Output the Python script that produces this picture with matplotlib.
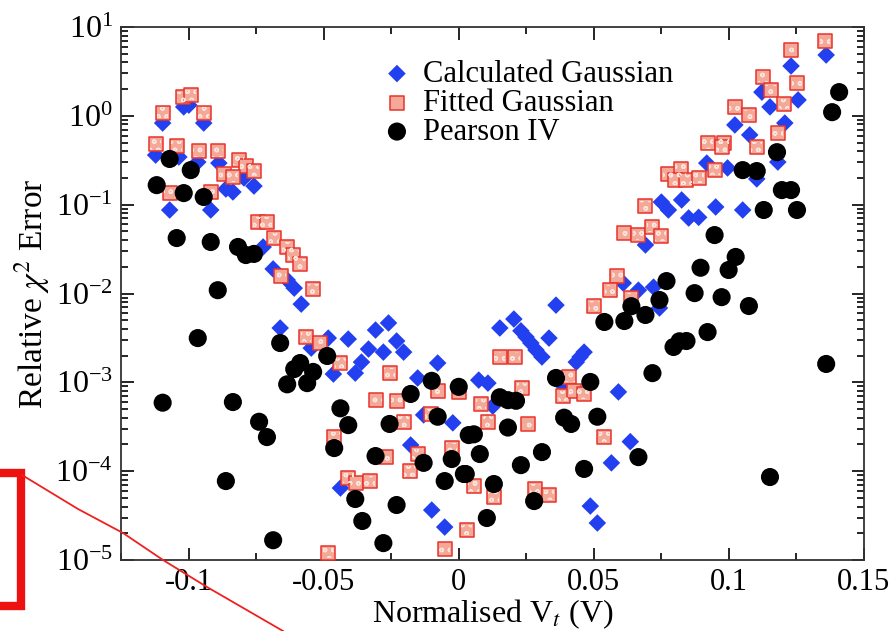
import matplotlib
matplotlib.use("Agg")
import matplotlib.pyplot as plt
import matplotlib.ticker as mticker
from matplotlib.patches import Rectangle
from matplotlib.lines import Line2D

plt.rcParams['font.family'] = ['Liberation Serif', 'DejaVu Serif']
plt.rcParams['mathtext.fontset'] = 'stix'
plt.rcParams['axes.unicode_minus'] = False

# ---- Calculated Gaussian ----
calc_x = [-0.1096, -0.1018, -0.0999, -0.0944, -0.1122, -0.1036, -0.0966, -0.0888, -0.0795, -0.0758,
          -0.0862, -0.0836, -0.1070, -0.0918, -0.0724, -0.0687, -0.0635, -0.0609, -0.0583, -0.0661,
          -0.0546, -0.0483, -0.0409, -0.0308, -0.0260, -0.0230, -0.0334, -0.0279, -0.0204, -0.0360,
          -0.0464, -0.0383, -0.0078, -0.0152, -0.0130, -0.0022, -0.0178, -0.0438, -0.0100, -0.0052,
          0.0360, 0.0204, 0.0152, 0.0230, 0.0249, 0.0267, 0.0286, 0.0308, 0.0334, 0.0435,
          0.0449, 0.0464, 0.0074, 0.0108, 0.0390, 0.0591, 0.0126, 0.0635, 0.0565, 0.0487,
          0.0513, 0.0609, 0.0665, 0.0721, 0.0691, 0.0743, 0.0750, 0.0776, 0.0825, 0.0851,
          0.0888, 0.0951, 0.0918, 0.0995, 0.1051, 0.1103, 0.1181, 0.1022, 0.1077, 0.1207,
          0.1122, 0.1152, 0.1256, 0.1230, 0.1360]
calc_y = [0.83, 1.26, 1.32, 0.83, 0.362, 0.344, 0.302, 0.294, 0.20, 0.162,
          0.15, 0.139, 0.0871, 0.0871, 0.0334, 0.0189, 0.0142, 0.0115, 0.0076, 0.00409,
          0.00243, 0.00315, 0.00307, 0.00388, 0.00466, 0.00292, 0.00237, 0.00219, 0.00219, 0.00169,
          0.00124, 0.00127, 0.00165, 0.00112, 0.00043, 0.00035, 0.000197, 0.0000646, 0.0000365, 0.0000235,
          0.0074, 0.00516, 0.00409, 0.0038, 0.00324, 0.00277, 0.00231, 0.00193, 0.00315, 0.00169,
          0.00193, 0.00219, 0.00106, 0.00098, 0.00089, 0.00078, 0.00054, 0.000215, 0.000124, 0.0000405,
          0.0000261, 0.0131, 0.0109, 0.0118, 0.0352, 0.00687, 0.107, 0.0871, 0.113, 0.0708,
          0.072, 0.0942, 0.294, 0.259, 0.0871, 0.195, 0.302, 0.79, 0.61, 0.83,
          1.85, 1.26, 1.51, 3.64, 4.84]

# ---- Fitted Gaussian ----
fit_x = [-0.1096, -0.1022, -0.0992, -0.0944, -0.1122, -0.1044, -0.0962, -0.0892, -0.0814, -0.0788,
         -0.0758, -0.0869, -0.0836, -0.1070, -0.0918, -0.0743, -0.0710, -0.0684, -0.0635, -0.0613,
         -0.0587, -0.0658, -0.0539, -0.0565, -0.0513, -0.0438, -0.0256, -0.0305, -0.0230, -0.0204,
         -0.0104, -0.0078, 0.0000, -0.0461, -0.0271, -0.0152, -0.0182, -0.0026, -0.0409, -0.0379,
         -0.0330, -0.0483, -0.0052, 0.0030, 0.0055, 0.0501, 0.0152, 0.0208, 0.0409, 0.0234,
         0.0386, 0.0427, 0.0464, 0.0082, 0.0108, 0.0256, 0.0539, 0.0130, 0.0282, 0.0334,
         0.0587, 0.0561, 0.0639, 0.0613, 0.0665, 0.0717, 0.0747, 0.0691, 0.0776, 0.0821,
         0.0799, 0.0843, 0.0888, 0.0947, 0.0921, 0.0981, 0.0973, 0.1103, 0.1022, 0.1074,
         0.1181, 0.1126, 0.1252, 0.1155, 0.1204, 0.1230, 0.1356]
fit_y = [1.08, 1.63, 1.72, 1.08, 0.48, 0.457, 0.40, 0.40, 0.32, 0.272,
         0.239, 0.221, 0.205, 0.135, 0.139, 0.0638, 0.0638, 0.0421, 0.0334, 0.0271,
         0.0215, 0.0157, 0.0112, 0.00324, 0.00277, 0.00165, 0.00127, 0.00063, 0.00062, 0.00036,
         0.00044, 0.0008, 0.00078, 0.000242, 0.000144, 0.000156, 0.0001, 0.000182, 0.0000837, 0.0000736,
         0.0000774, 0.000012, 0.0000133, 0.0000218, 0.0000674, 0.00723, 0.00193, 0.00193, 0.00115, 0.00086,
         0.0007, 0.0008, 0.00074, 0.00057, 0.00036, 0.00034, 0.000242, 0.0000512, 0.000063, 0.0000539,
         0.0157, 0.0109, 0.0089, 0.048, 0.0455, 0.0561, 0.0444, 0.0966, 0.221, 0.25,
         0.19, 0.19, 0.20, 0.245, 0.49, 0.49, 0.446, 0.446, 1.26, 1.02,
         0.64, 2.74, 2.34, 1.95, 1.36, 5.5, 6.95]

# ---- Pearson IV ----
pear_x = [-0.1070, -0.0992, -0.1118, -0.1018, -0.0944, -0.1044, -0.0918, -0.0817, -0.0788, -0.0758,
          -0.0892, -0.0966, -0.0661, -0.0587, -0.0609, -0.0539, -0.0635, -0.0561, -0.1096, -0.0836,
          -0.0739, -0.0710, -0.0862, -0.0687, -0.0487, -0.0178, -0.0100, 0.0000, -0.0438, -0.0409,
          -0.0256, -0.0078, 0.0037, -0.0461, -0.0308, -0.0130, -0.0026, 0.0019, -0.0052, -0.0383,
          -0.0230, -0.0357, -0.0279, 0.0539, 0.0613, 0.0360, 0.0487, 0.0152, 0.0182, 0.0212,
          0.0390, 0.0416, 0.0513, 0.0056, 0.0182, 0.0078, 0.0308, 0.0230, 0.0464, 0.0026,
          0.0130, 0.0279, 0.0104, 0.0665, 0.0691, 0.0639, 0.0743, 0.0769, 0.0873, 0.0973,
          0.1074, 0.0947, 0.1025, 0.0999, 0.0895, 0.0921, 0.0795, 0.0843, 0.0817, 0.0717,
          0.1360, 0.1152, 0.1051, 0.1103, 0.1178, 0.1196, 0.1230, 0.1129, 0.1252, 0.1408,
          0.1382]
pear_y = [0.327, 0.245, 0.166, 0.135, 0.122, 0.0421, 0.038, 0.0334, 0.0271, 0.0279,
          0.0109, 0.00315, 0.00277, 0.00165, 0.00141, 0.00131, 0.00095, 0.00098, 0.00059, 0.0006,
          0.00036, 0.000242, 0.0000774, 0.0000167, 0.00198, 0.00074, 0.00104, 0.00089, 0.00051, 0.00033,
          0.00034, 0.00041, 0.000255, 0.000182, 0.000148, 0.000124, 0.000137, 0.0000929, 0.0000774, 0.0000486,
          0.0000416, 0.0000275, 0.0000155, 0.00478, 0.0049, 0.00112, 0.00101, 0.00068, 0.00063, 0.00062,
          0.0004, 0.00034, 0.00041, 0.00026, 0.00031, 0.000156, 0.000164, 0.000117, 0.000106, 0.0000929,
          0.0000717, 0.0000461, 0.0000297, 0.000144, 0.00573, 0.0072, 0.00845, 0.0138, 0.0101, 0.0091,
          0.00723, 0.0455, 0.0258, 0.0184, 0.0195, 0.00368, 0.0025, 0.00292, 0.0029, 0.00127,
          0.00161, 0.0000859, 0.245, 0.239, 0.39, 0.146, 0.146, 0.0871, 0.0871, 1.85,
          1.10]

series_labels = ["Calculated Gaussian", "Fitted Gaussian", "Pearson IV"]
x_ticks = [-0.1, -0.05, 0, 0.05, 0.1, 0.15]
x_tick_labels = ["-0.1", "-0.05", "0", "0.05", "0.1", "0.15"]

fig = plt.figure(figsize=(8.92, 6.31), dpi=100)
ax = fig.add_axes([0.1357, 0.1125, 0.8329, 0.8447])

blue = '#2340f0'
ax.scatter(calc_x, calc_y, marker='D', s=80, c=blue, edgecolors='none', zorder=3,
           label=series_labels[0])
ax.scatter(fit_x, fit_y, marker='s', s=105, facecolors='#f4a898', edgecolors='#e8332c',
           linewidths=1.1, zorder=4, label=series_labels[1])
ax.scatter(fit_x, fit_y, marker='s', s=60, facecolors='none', edgecolors='#fbe4dc',
           linewidths=0, hatch='oo', zorder=4.1)
ax.scatter(pear_x, pear_y, marker='o', s=170, c='black', edgecolors='none', zorder=5,
           label=series_labels[2])

ax.set_yscale('log')
ax.set_xlim(-0.125, 0.15)
ax.set_ylim(1e-5, 10)
ax.set_xticks(x_ticks)
ax.set_xticklabels(x_tick_labels)
ax.xaxis.set_minor_locator(mticker.MultipleLocator(0.025))
ax.yaxis.set_major_locator(mticker.LogLocator(base=10, numticks=10))
ax.yaxis.set_minor_locator(mticker.LogLocator(base=10, subs=range(2, 10), numticks=20))
ax.yaxis.set_minor_formatter(mticker.NullFormatter())

ax.tick_params(which='both', direction='in', top=True, right=True, labelsize=23, width=1.2)
ax.tick_params(axis='x', labelsize=22, pad=6)
ax.tick_params(axis='y', pad=6)
ax.tick_params(which='major', length=9)
ax.tick_params(which='minor', length=5)
for sp in ax.spines.values():
    sp.set_linewidth(1.3)
    sp.set_color('#333333')

ax.set_xlabel(r"Normalised V$_t$ (V)", fontsize=23, labelpad=0)
ax.set_ylabel(r"Relative $\chi^2$ Error", fontsize=24, labelpad=2)

leg = ax.legend(loc='upper left', bbox_to_anchor=(0.322, 0.979), frameon=False,
                fontsize=22, labelspacing=0.0, handletextpad=0.35, borderpad=0.2,
                handlelength=1.0, scatterpoints=1)

# red annotation marks on the scanned figure
fig.patches.append(Rectangle((-10, 631 - 606), 31, 133, transform=None, fill=False,
                             edgecolor='#ee1111', linewidth=6, figure=fig))
fig.lines.append(Line2D([22, 78, 123, 163, 207, 283], [631 - 475, 631 - 509, 631 - 533, 631 - 560, 631 - 587, 631 - 631],
                        transform=None, color='#ee2020', linewidth=1.3, figure=fig))

fig.savefig("out.png", dpi=100)
